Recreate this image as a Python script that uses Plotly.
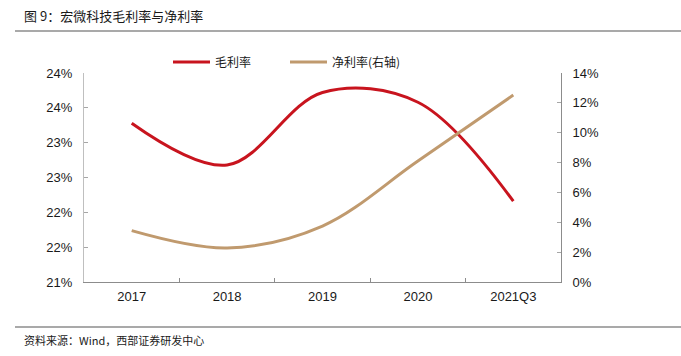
import plotly.graph_objects as go

categories = ["2017", "2018", "2019", "2020", "2021Q3"]
gross_margin = [23.28, 22.68, 23.72, 23.58, 22.16]   # 毛利率 (%), left axis
net_margin = [3.44, 2.28, 3.75, 8.1, 12.52]          # 净利率 (%), right axis

left_ticks = [21.0, 21.5, 22.0, 22.5, 23.0, 23.5, 24.0]
left_ticktext = ["21%", "22%", "22%", "23%", "23%", "24%", "24%"]
right_ticks = [0, 2, 4, 6, 8, 10, 12, 14]
right_ticktext = ["0%", "2%", "4%", "6%", "8%", "10%", "12%", "14%"]

RED = "#C8141E"
TAN = "#C09A6E"
AX = "#A6A6A6"
TXT = "#1a1a1a"

L, R, T, B = 84, 120, 73, 74
PW, PH = 681 - L - R, 356 - T - B


def px(x):
    return (x - L) / PW


def py(y):
    return (356 - B - y) / PH


fig = go.Figure()
fig.add_trace(go.Scatter(
    x=categories, y=gross_margin, name="毛利率", mode="lines",
    line=dict(color=RED, width=3, shape="spline", smoothing=1.0),
    yaxis="y"))
fig.add_trace(go.Scatter(
    x=categories, y=net_margin, name="净利率(右轴)", mode="lines",
    line=dict(color=TAN, width=3, shape="spline", smoothing=1.0),
    yaxis="y2"))

fig.update_layout(
    width=681, height=356,
    margin=dict(l=L, r=R, t=T, b=B, autoexpand=False),
    paper_bgcolor="white", plot_bgcolor="white",
    font=dict(family="Liberation Sans, Arial, sans-serif", size=13, color=TXT),
    showlegend=True,
    legend=dict(orientation="h", x=px(168), y=py(62), xanchor="left", yanchor="middle",
                font=dict(family="Noto Sans CJK SC", size=12, color=TXT),
                itemwidth=37, entrywidth=65, bgcolor="rgba(0,0,0,0)",
                tracegroupgap=0),
    xaxis=dict(type="category", range=[-0.5, 4.5], showgrid=False,
               showline=True, linecolor="#8c8c8c", linewidth=1,
               ticks="inside", tickson="boundaries", ticklen=4, tickcolor="#8c8c8c",
               tickfont=dict(size=13, color=TXT), ticklabelstandoff=2, zeroline=False),
    yaxis=dict(range=[21, 24], tickvals=left_ticks, ticktext=left_ticktext,
               showgrid=False, showline=True, linecolor="#BFBFBF", linewidth=1,
               ticks="inside", ticklen=4, tickcolor=AX,
               tickfont=dict(size=13, color=TXT), ticklabelstandoff=8, zeroline=False),
    yaxis2=dict(range=[0, 14], tickvals=right_ticks, ticktext=right_ticktext,
                overlaying="y", side="right", showgrid=False,
                showline=True, linecolor="#8c8c8c", linewidth=1,
                ticks="inside", ticklen=4, tickcolor=AX,
                tickfont=dict(size=13, color=TXT), ticklabelstandoff=8, zeroline=False),
    shapes=[
        dict(type="line", xref="paper", yref="paper", x0=px(15), x1=px(681),
             y0=py(31), y1=py(31), line=dict(color="#8c8c8c", width=1.5)),
        dict(type="line", xref="paper", yref="paper", x0=px(15), x1=px(681),
             y0=py(327), y1=py(327), line=dict(color="#8c8c8c", width=1.5)),
    ],
    annotations=[
        dict(text="图 9：宏微科技毛利率与净利率", xref="paper", yref="paper",
             x=px(22), y=py(15), xanchor="left", yanchor="middle",
             showarrow=False, font=dict(family="Noto Sans CJK SC", size=13, color=TXT)),
        dict(text="资料来源：Wind，西部证券研发中心", xref="paper", yref="paper",
             x=px(22), y=py(340), xanchor="left", yanchor="middle",
             showarrow=False, font=dict(family="Noto Sans CJK SC", size=11, color=TXT)),
    ],
)

fig.write_html("out.html", config={"displayModeBar": False},
               post_script="document.body.style.margin='0';document.body.style.overflow='hidden';")
